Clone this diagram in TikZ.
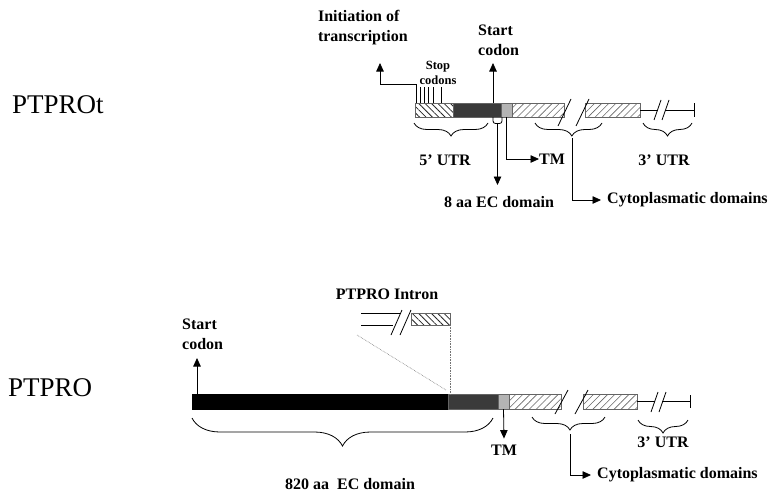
\documentclass[tikz,border=0pt]{standalone}
\usepackage{fontspec}
\setmainfont{Liberation Serif}
\usetikzlibrary{arrows.meta,decorations.pathreplacing,patterns.meta}

\definecolor{darkseg}{RGB}{58,58,58}
\definecolor{lightseg}{RGB}{180,180,180}
\definecolor{edgec}{RGB}{100,100,100}

\tikzset{
  seg/.style={draw=edgec, line width=0.6pt, inner sep=0pt, outer sep=0pt, anchor=north west, minimum height=14pt},
  utrhatch/.style={seg, pattern={Lines[angle=-45,distance=4.5pt,line width=0.8pt]}, pattern color=black!85},
  cythatch/.style={seg, pattern={Lines[angle=45,distance=5pt,line width=0.6pt]}, pattern color=black!60},
  darkbox/.style={seg, fill=darkseg},
  lightbox/.style={seg, fill=lightseg},
  blackbox/.style={seg, fill=black, draw=black},
  lbl/.style={font=\bfseries\fontsize{16}{20}\selectfont, inner sep=0pt, align=left},
  smalllbl/.style={font=\bfseries\fontsize{12.5}{15.5}\selectfont, inner sep=0pt, align=center},
  biglbl/.style={font=\fontsize{27}{30}\selectfont, inner sep=0pt, anchor=west},
  arr/.style={line width=0.8pt, -{Triangle[length=8.5pt,width=7.5pt]}},
  ln/.style={line width=0.8pt},
  brc/.style={line width=0.8pt, decorate, decoration={brace, mirror, amplitude=#1}},
  brc/.default=13pt,
  dotl/.style={densely dotted, line width=0.6pt, draw=black!55},
}

\begin{document}
\begin{tikzpicture}[x=1pt,y=-1pt]
\useasboundingbox (0,0) rectangle (775,493);

% ---------------- PTPROt ----------------
\node[biglbl] (namet) at (12,105) {PTPROt};

\node[utrhatch, minimum width=38pt] (utr5t) at (415,103) {};
\node[darkbox, minimum width=48pt] (darkt) at (453,103) {};
\node[lightbox, minimum width=11pt] (tmt) at (501,103) {};
\node[cythatch, minimum width=52pt] (cyt1) at (512,103) {};
\node[cythatch, minimum width=55pt] (cyt2) at (585,103) {};

% breaks
\draw[ln] (558,126) -- (571,99);
\draw[ln] (576,126) -- (589,99);
\coordinate (endt) at (694,110);
\draw[ln] (cyt2.east) -- (658,110);
\draw[ln] (654,120) -- (661,100);
\draw[ln] (662,120) -- (669,100);
\draw[ln] (665,110) -- (endt);
\draw[ln] (694,103) -- (694,117);

% stop codons and initiation
\coordinate (inittip) at (380,63);
\draw[arr] (416,103) |- (380,84) -- (inittip);
\foreach \x in {420,424.3,428.3,433.3,441} \draw[ln] (\x,103) -- (\x,87);
\node[smalllbl] (stopl) at (438,73) {Stop\\codons};
\node[lbl, anchor=east] (initl) at (408,28) {Initiation of\\transcription};

% start codon
\node[lbl, anchor=west] (startt) at (478,40) {Start\\codon};
\draw[arr] (darkt.north east) ++(-8,0) coordinate (stb) -- (stb |- 0,63);

% under bar
\draw[brc] (414,123) -- (488,123);
\node[lbl] (utr5l) at (445,160) {5’ UTR};

\draw[ln, rounded corners=2.5pt] (493,117) -- (493,123.5) -- (502,123.5) -- (502,117);
\node[lbl] (ec8l) at (499,202) {8 aa EC domain};
\draw[arr] (497.5,123.5) -- (497.5,185);

\node[lbl, anchor=west] (tmtl) at (539,159) {TM};
\draw[arr] (tmt.south) |- (tmtl.west);

\draw[brc, decoration={aspect=0.55}] (535,123) -- (602,123);
\node[lbl, anchor=west] (cytl) at (607,200) {Cytoplasmatic domains};
\draw[arr] (572,138) |- ([xshift=-6pt]cytl.west);

\draw[brc] (643,123) -- (692,123);
\node[lbl] (utr3tl) at (664,160) {3’ UTR};

% ---------------- PTPRO ----------------
\node[biglbl] (nameb) at (8,388) {PTPRO};

\node[blackbox, minimum width=256pt, minimum height=15pt] (ecb) at (192,394) {};
\node[darkbox, minimum width=50pt, minimum height=15pt] (darkb) at (448,394) {};
\node[lightbox, minimum width=11pt, minimum height=15pt] (tmb) at (498,394) {};
\node[cythatch, minimum width=52pt, minimum height=15pt] (cyb1) at (509,394) {};
\node[cythatch, minimum width=54pt, minimum height=15pt] (cyb2) at (583,394) {};

\draw[ln] (555,414) -- (568,390);
\draw[ln] (575,414) -- (588,390);
\coordinate (endb) at (690,401.5);
\draw[ln] (cyb2.east) -- (655,401.5);
\draw[ln] (651,412) -- (658,392);
\draw[ln] (659,412) -- (666,392);
\draw[ln] (662,401.5) -- (endb);
\draw[ln] (690,395) -- (690,408);

% start codon
\node[lbl, anchor=west] (startb) at (182,334) {Start\\codon};
\draw[arr] (ecb.north west) ++(5,0) coordinate (sbb) -- (sbb |- 0,358);

% intron
\node[lbl] (intronl) at (387,294) {PTPRO Intron};
\node[utrhatch, minimum width=39pt, minimum height=12pt] (intronbox) at (411,313) {};
\draw[ln] (361,313) -- (400,313);
\draw[ln] (361,325) -- (393,325);
\draw[ln] (391,335) -- (402,310);
\draw[ln] (400,335) -- (411,310);
\draw[dotl] (intronbox.south east) -- (intronbox.south east |- ecb.north);
\draw[dotl] (357,335) -- (446,390);

% under bar
\draw[brc=28pt] (192,418) -- (493,418);
\node[lbl] (ec820l) at (350,484) {820 aa \ EC domain};

\node[lbl] (tmbl) at (504,450) {TM};
\draw[arr] (tmb.south) -- ([yshift=6pt]tmbl.north);

\draw[brc, decoration={aspect=0.52}] (532,417) -- (605,417);
\node[lbl, anchor=west] (cybl) at (597,475) {Cytoplasmatic domains};
\draw[arr] (570,434) |- ([xshift=-6pt]cybl.west);

\draw[brc] (638,420) -- (688,420);
\node[lbl] (utr3bl) at (663,442) {3’ UTR};

\end{tikzpicture}
\end{document}
